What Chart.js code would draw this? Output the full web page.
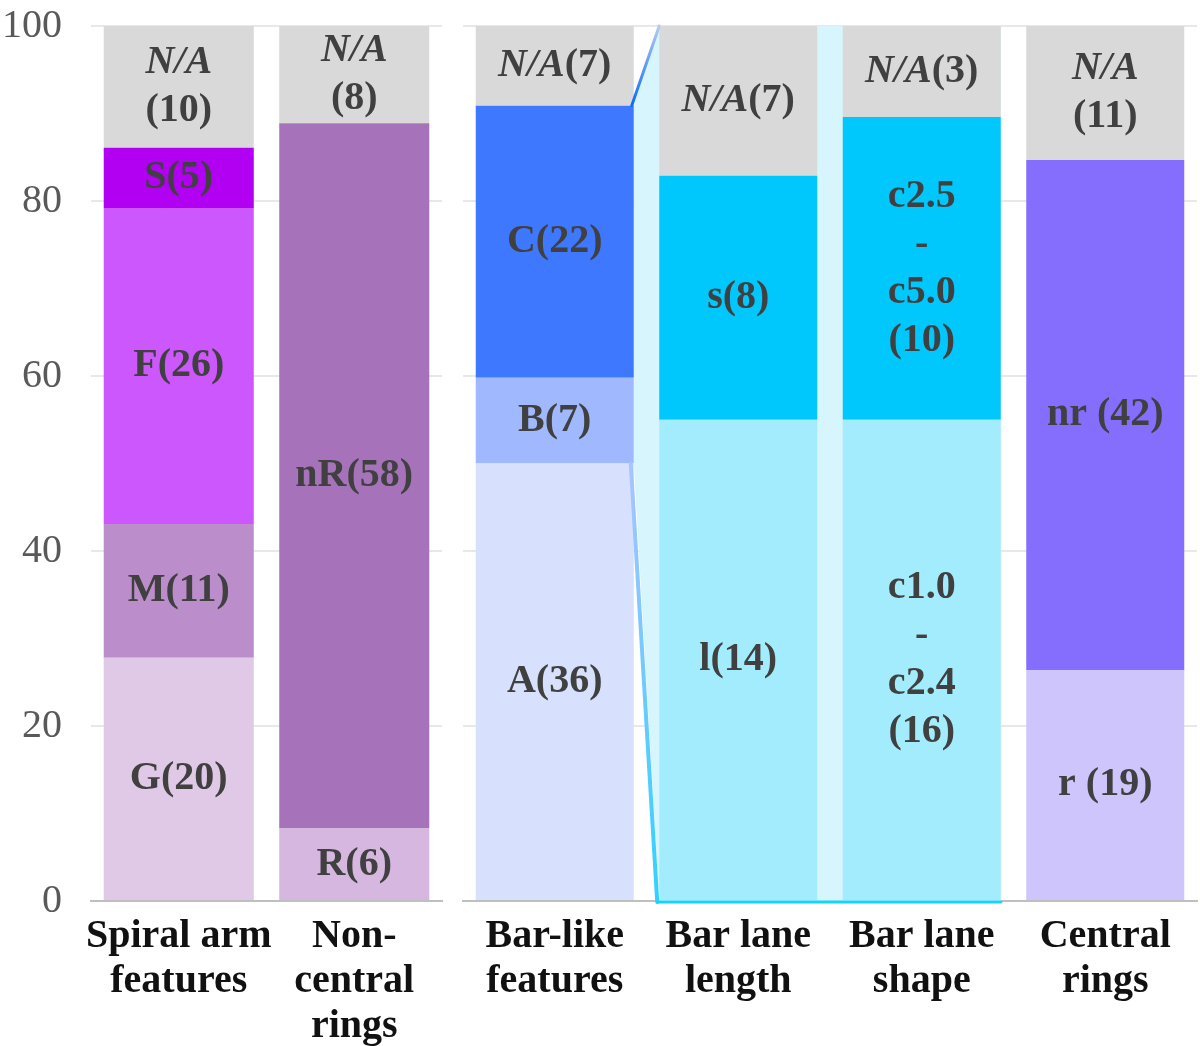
<!DOCTYPE html>
<html>
<head>
<meta charset="utf-8">
<script src="https://cdn.jsdelivr.net/npm/chart.js@4.4.1/dist/chart.umd.min.js"></script>
<style>
    html, body { margin: 0; padding: 0; background: #ffffff; }
    #wrap { position: relative; width: 1200px; height: 1046px; }
    #wrap canvas { position: absolute; left: 0; top: 0; }
</style>
</head>
<body>
<div id="wrap">
    <canvas id="chart_left" width="1200" height="1046"></canvas>
    <canvas id="chart_right" width="1200" height="1046"></canvas>
</div>
<script>
// categories (x tick labels, split into lines)
const left_categories = [['Spiral arm', 'features'], ['Non-', 'central', 'rings']];
const right_categories = [['Bar-like', 'features'], ['Bar lane', 'length'], ['Bar lane', 'shape'], ['Central', 'rings']];

// y ticks
const y_ticks = [0, 20, 40, 60, 80, 100];

// segments per bar, bottom to top (percent of bar)
const spiral_labels = ['G(20)', 'M(11)', 'F(26)', 'S(5)', 'N/A\n(10)'];
const spiral_values = [27.8, 15.3, 36.1, 6.9, 13.9];

const noncentral_labels = ['R(6)', 'nR(58)', 'N/A\n(8)'];
const noncentral_values = [8.3, 80.6, 11.1];

const barlike_labels = ['A(36)', 'B(7)', 'C(22)', 'N/A(7)'];
const barlike_values = [50.0, 9.8, 31.1, 9.1];

const lane_length_labels = ['l(14)', 's(8)', 'N/A(7)'];
const lane_length_values = [55.0, 27.9, 17.1];

const lane_shape_labels = ['c1.0\n-\nc2.4\n(16)', 'c2.5\n-\nc5.0\n(10)', 'N/A(3)'];
const lane_shape_values = [55.0, 34.6, 10.4];

const central_labels = ['r (19)', 'nr (42)', 'N/A\n(11)'];
const central_values = [26.4, 58.3, 15.3];

// colours
const spiral_colors = ['#e0c9e7', '#bb8dcb', '#cb57fd', '#b200f3', '#d9d9d9'];
const noncentral_colors = ['#d6b7df', '#a673ba', '#d9d9d9'];
const barlike_colors = ['#d7e1fd', '#a0b8fd', '#3e78fe', '#d9d9d9'];
const lane_length_colors = ['#a3ecfd', '#00c7fc', '#d9d9d9'];
const lane_shape_colors = ['#a3ecfd', '#00c7fc', '#d9d9d9'];
const central_colors = ['#cec5fd', '#856efe', '#d9d9d9'];

const palette = {
    seg_text: '#404040',
    axis_text: '#595959',
    cat_text: '#111111',
    grid: 'rgba(0, 0, 0, 0.09)',
    baseline: '#bfbfbf',
    panel: '#d6f5fd',
};

const font_family = '"Liberation Serif", "DejaVu Serif", serif';
const seg_font_size = 40;
const seg_line_height = 48;

Chart.defaults.font.family = font_family;

function build_datasets(bars) {
    const datasets = [];
    bars.forEach(function (bar, bar_idx) {
        bar.values.forEach(function (value, seg_idx) {
            const data = bars.map(function (_, idx) {
                return idx === bar_idx ? value : null;
            });
            datasets.push({
                data: data,
                backgroundColor: bar.colors[seg_idx],
                borderWidth: 0,
                seg_label: bar.labels[seg_idx],
                bar_index: bar_idx,
                seg_index: seg_idx,
            });
        });
    });
    return datasets;
}

function draw_segment_text(ctx, text, x, y) {
    const bold = 'bold ' + seg_font_size + 'px ' + font_family;
    const italic = 'italic bold ' + seg_font_size + 'px ' + font_family;
    const lines = text.split('\n');

    lines.forEach(function (line, idx) {
        const ly = y + (idx - (lines.length - 1) / 2) * seg_line_height;
        if (line.indexOf('N/A') === 0) {
            const rest = line.slice(3);
            ctx.font = italic;
            const w1 = ctx.measureText('N/A').width;
            ctx.font = bold;
            const w2 = ctx.measureText(rest).width;
            const start = x - (w1 + w2) / 2;
            ctx.textAlign = 'left';
            ctx.font = italic;
            ctx.fillText('N/A', start, ly);
            ctx.font = bold;
            ctx.fillText(rest, start + w1, ly);
        } else {
            ctx.textAlign = 'center';
            ctx.font = bold;
            ctx.fillText(line, x, ly);
        }
    });
}

const segment_label_plugin = {
    id: 'segment_labels',
    afterDraw: function (chart) {
        const ctx = chart.ctx;
        ctx.save();
        ctx.fillStyle = palette.seg_text;
        ctx.textBaseline = 'middle';
        chart.data.datasets.forEach(function (ds, ds_idx) {
            const meta = chart.getDatasetMeta(ds_idx);
            const el = meta.data[ds.bar_index];
            if (!el || ds.data[ds.bar_index] === null) {
                return;
            }
            draw_segment_text(ctx, ds.seg_label, el.x, (el.y + el.base) / 2);
        });
        ctx.restore();
    },
};

function find_element(chart, bar_idx, seg_idx) {
    const datasets = chart.data.datasets;
    for (let i = 0; i < datasets.length; i += 1) {
        if (datasets[i].bar_index === bar_idx && datasets[i].seg_index === seg_idx) {
            return chart.getDatasetMeta(i).data[bar_idx];
        }
    }
    return null;
}

// light panel behind the bar-lane bars, joined to the C and A segments
function panel_geometry(chart) {
    const y_scale = chart.scales.y;
    const el_a = find_element(chart, 0, 0);
    const el_c = find_element(chart, 0, 2);
    const el_len = find_element(chart, 1, 2);
    const el_shape = find_element(chart, 2, 0);
    return {
        x_from: el_c.x + el_c.width / 2,
        y_c: el_c.y,
        y_a: el_a.y,
        x_left: el_len.x - el_len.width / 2,
        x_right: el_shape.x + el_shape.width / 2,
        y_top: el_len.y,
        y_zero: y_scale.getPixelForValue(0),
    };
}

const panel_plugin = {
    id: 'lane_panel',
    beforeDatasetsDraw: function (chart) {
        const g = panel_geometry(chart);
        const ctx = chart.ctx;
        ctx.save();
        ctx.fillStyle = palette.panel;
        ctx.beginPath();
        ctx.moveTo(g.x_from, g.y_c);
        ctx.lineTo(g.x_left, g.y_top);
        ctx.lineTo(g.x_right, g.y_top);
        ctx.lineTo(g.x_right, g.y_zero);
        ctx.lineTo(g.x_left, g.y_zero);
        ctx.lineTo(g.x_from, g.y_a);
        ctx.closePath();
        ctx.fill();
        ctx.restore();
    },
    afterDatasetsDraw: function (chart) {
        const g = panel_geometry(chart);
        const ctx = chart.ctx;
        ctx.save();
        ctx.lineCap = 'round';

        let grad = ctx.createLinearGradient(g.x_from, g.y_c, g.x_left, g.y_top);
        grad.addColorStop(0, '#0a6cff');
        grad.addColorStop(1, '#b7c9ee');
        ctx.strokeStyle = grad;
        ctx.lineWidth = 3;
        ctx.beginPath();
        ctx.moveTo(g.x_from - 2, g.y_c);
        ctx.lineTo(g.x_left, g.y_top);
        ctx.stroke();

        grad = ctx.createLinearGradient(g.x_from, g.y_a, g.x_left, g.y_zero);
        grad.addColorStop(0, '#a9c4ff');
        grad.addColorStop(1, '#2fd2ff');
        ctx.strokeStyle = grad;
        ctx.lineWidth = 4;
        ctx.beginPath();
        ctx.moveTo(g.x_from - 3, g.y_a);
        ctx.lineTo(g.x_left - 2, g.y_zero + 1);
        ctx.stroke();

        ctx.strokeStyle = '#14d4ff';
        ctx.lineWidth = 3;
        ctx.beginPath();
        ctx.moveTo(g.x_left - 2, g.y_zero + 1);
        ctx.lineTo(g.x_right, g.y_zero + 1);
        ctx.stroke();
        ctx.restore();
    },
};

function make_options(show_y, pad_left, pad_right, bar_pct) {
    return {
        responsive: false,
        animation: false,
        events: [],
        layout: { padding: { left: pad_left, right: pad_right, top: 26, bottom: 0 } },
        plugins: { legend: { display: false }, tooltip: { enabled: false } },
        datasets: { bar: { categoryPercentage: 1, barPercentage: bar_pct } },
        scales: {
            x: {
                stacked: true,
                z: 1,
                grid: { display: false, drawTicks: false },
                border: { display: true, color: palette.baseline, width: 2 },
                ticks: {
                    autoSkip: false,
                    maxRotation: 0,
                    minRotation: 0,
                    padding: 13,
                    color: palette.cat_text,
                    font: { size: 40, weight: 'bold', lineHeight: 1.13 },
                },
                afterFit: function (scale) { scale.height = 145; },
            },
            y: {
                stacked: true,
                min: 0,
                max: 100,
                z: 1,
                afterBuildTicks: function (scale) {
                    scale.ticks = y_ticks.map(function (v) { return { value: v }; });
                },
                grid: { color: palette.grid, lineWidth: 2, drawTicks: false },
                border: { display: false },
                ticks: {
                    display: show_y,
                    padding: 29,
                    color: palette.axis_text,
                    font: { size: 40 },
                },
                afterFit: function (scale) {
                    scale.width = show_y ? 91 : 0;
                    scale.paddingTop = 0;
                    scale.paddingBottom = 0;
                },
            },
        },
    };
}

const left_bars = [
    { labels: spiral_labels, values: spiral_values, colors: spiral_colors },
    { labels: noncentral_labels, values: noncentral_values, colors: noncentral_colors },
];

const right_bars = [
    { labels: barlike_labels, values: barlike_values, colors: barlike_colors },
    { labels: lane_length_labels, values: lane_length_values, colors: lane_length_colors },
    { labels: lane_shape_labels, values: lane_shape_values, colors: lane_shape_colors },
    { labels: central_labels, values: central_values, colors: central_colors },
];

new Chart(document.getElementById('chart_left').getContext('2d'), {
    type: 'bar',
    data: { labels: left_categories, datasets: build_datasets(left_bars) },
    options: make_options(true, 0, 758, 0.855),
    plugins: [segment_label_plugin],
});

new Chart(document.getElementById('chart_right').getContext('2d'), {
    type: 'bar',
    data: { labels: right_categories, datasets: build_datasets(right_bars) },
    options: make_options(false, 463, 3, 0.861),
    plugins: [panel_plugin, segment_label_plugin],
});
</script>
</body>
</html>
